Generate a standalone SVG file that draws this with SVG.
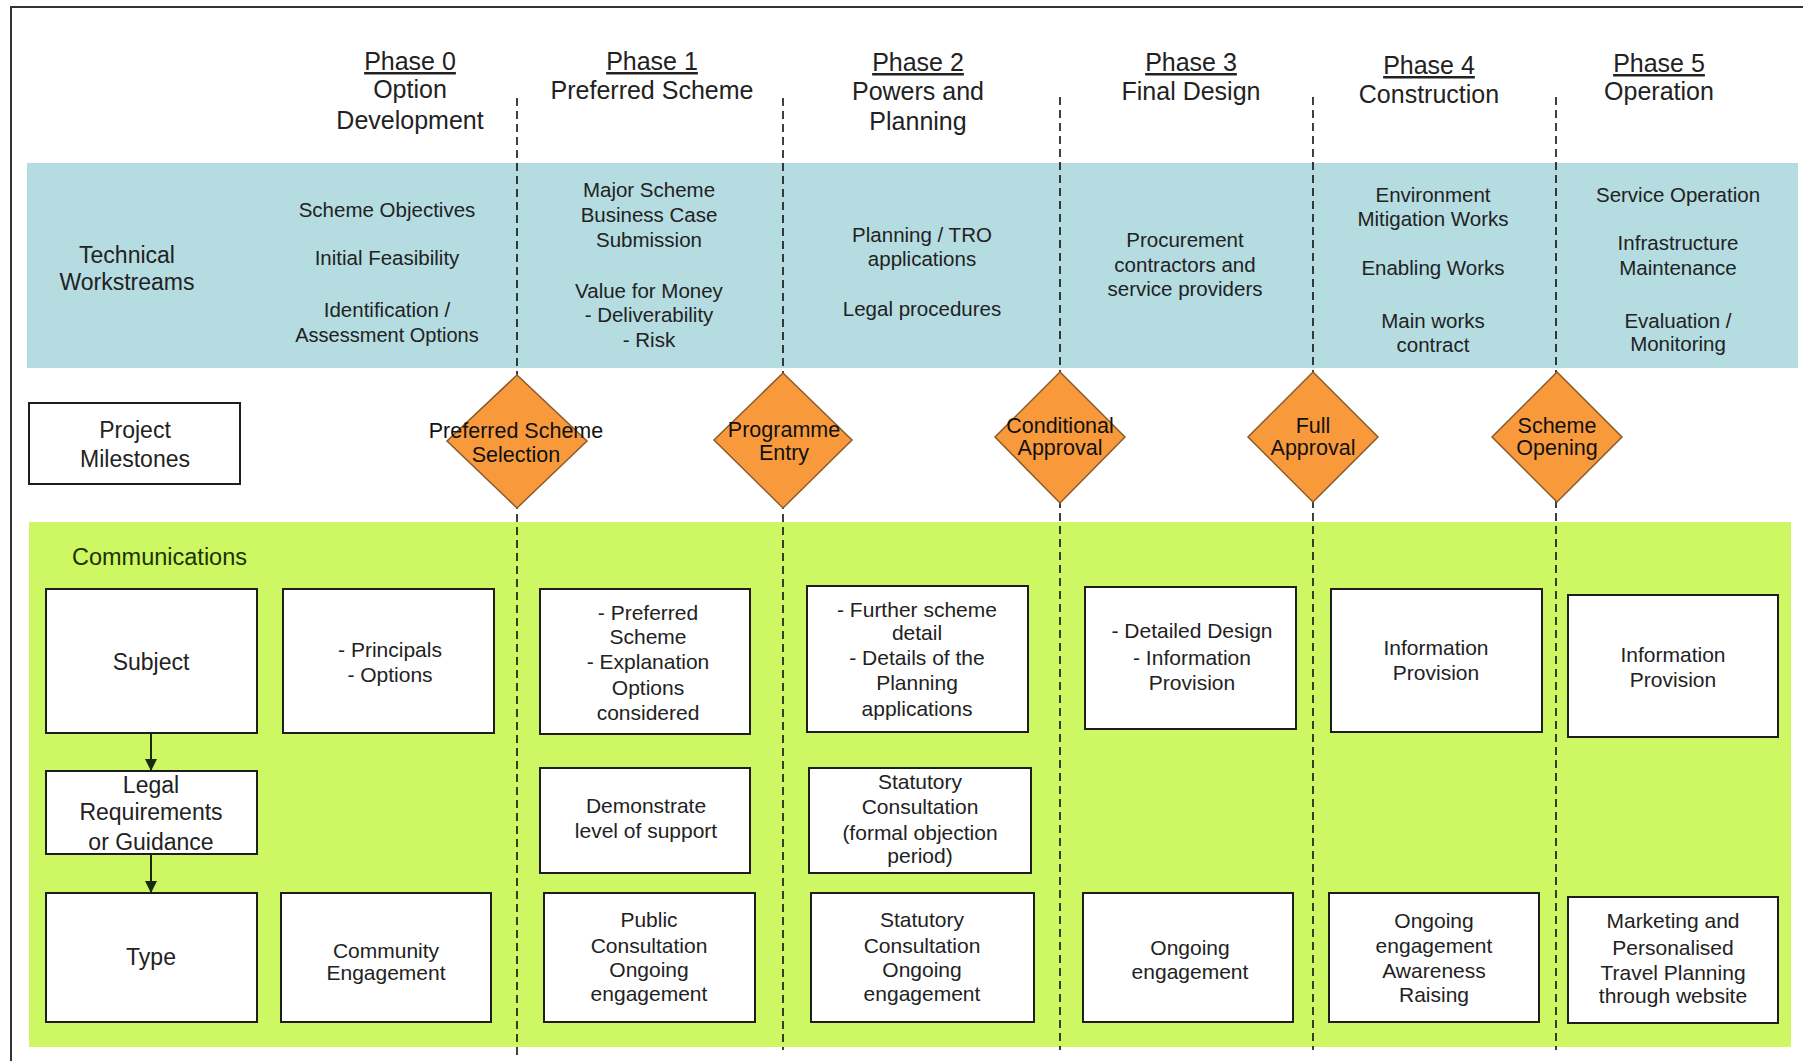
<svg xmlns="http://www.w3.org/2000/svg" width="1803" height="1061" viewBox="0 0 1803 1061">
<defs>
<style>
text{font-family:"Liberation Sans",Arial,sans-serif;fill:#222;text-anchor:middle}
.ph{font-size:25px}
.u{text-decoration:underline}
.tw{font-size:20.5px}
.lb{font-size:23px}
.bt{font-size:21px}
.dt{font-size:21.5px;fill:#111}
.bx{fill:#fff;stroke:#1e1e1e;stroke-width:2}
.dm{fill:#f89a3c;stroke:#8a5a2c;stroke-width:1.5}
.dl{stroke:#111;stroke-width:1.6;stroke-dasharray:8 5;fill:none}
.ar{stroke:#1a2a10;stroke-width:2;fill:none}
</style>
<marker id="ah" viewBox="0 0 10 10" refX="10" refY="5" markerWidth="12" markerHeight="12" markerUnits="userSpaceOnUse" orient="auto">
<path d="M0,0 L10,5 L0,10 z" fill="#1a2a10"/>
</marker>
</defs>
<rect x="0" y="0" width="1803" height="1061" fill="#fff"/>
<rect x="11" y="7" width="1810" height="1080" fill="none" stroke="#333" stroke-width="2"/>
<g id="bands">
<rect x="27" y="163" width="1771" height="205" fill="#b4dce1"/>
<rect x="29" y="522" width="1762" height="525" fill="#cdf763"/>
</g>
<g id="connectors">
<line class="dl" x1="517" y1="98" x2="517" y2="1058"/>
<line class="dl" x1="783" y1="98" x2="783" y2="1050"/>
<line class="dl" x1="1060" y1="97" x2="1060" y2="1050"/>
<line class="dl" x1="1313" y1="97" x2="1313" y2="1050"/>
<line class="dl" x1="1556" y1="97" x2="1556" y2="1050"/>
<line class="ar" x1="151" y1="734" x2="151" y2="771" marker-end="url(#ah)"/>
<line class="ar" x1="151" y1="855" x2="151" y2="893" marker-end="url(#ah)"/>
</g>
<g id="phases">
<text class="ph" x="410"><tspan class="u" x="410" y="70">Phase 0</tspan><tspan x="410" y="98">Option</tspan><tspan x="410" y="129">Development</tspan></text>
<text class="ph" x="652"><tspan class="u" x="652" y="70">Phase 1</tspan><tspan x="652" y="99">Preferred Scheme</tspan></text>
<text class="ph" x="918"><tspan class="u" x="918" y="71">Phase 2</tspan><tspan x="918" y="100">Powers and</tspan><tspan x="918" y="130">Planning</tspan></text>
<text class="ph" x="1191"><tspan class="u" x="1191" y="71">Phase 3</tspan><tspan x="1191" y="100">Final Design</tspan></text>
<text class="ph" x="1429"><tspan class="u" x="1429" y="74">Phase 4</tspan><tspan x="1429" y="103">Construction</tspan></text>
<text class="ph" x="1659"><tspan class="u" x="1659" y="72">Phase 5</tspan><tspan x="1659" y="100">Operation</tspan></text>
</g>
<g id="technical">
<text class="lb"><tspan x="127" y="263">Technical</tspan><tspan x="127" y="290">Workstreams</tspan></text>
<text class="tw"><tspan x="387" y="217">Scheme Objectives</tspan><tspan x="387" y="265">Initial Feasibility</tspan><tspan x="387" y="317">Identification /</tspan><tspan x="387" y="342" style="font-size:20px">Assessment Options</tspan></text>
<text class="tw"><tspan x="649" y="197">Major Scheme</tspan><tspan x="649" y="222">Business Case</tspan><tspan x="649" y="247">Submission</tspan><tspan x="649" y="298">Value for Money</tspan><tspan x="649" y="322">- Deliverability</tspan><tspan x="649" y="347">- Risk</tspan></text>
<text class="tw"><tspan x="922" y="242">Planning / TRO</tspan><tspan x="922" y="266">applications</tspan><tspan x="922" y="316">Legal procedures</tspan></text>
<text class="tw"><tspan x="1185" y="247">Procurement</tspan><tspan x="1185" y="272">contractors and</tspan><tspan x="1185" y="296">service providers</tspan></text>
<text class="tw"><tspan x="1433" y="202">Environment</tspan><tspan x="1433" y="226">Mitigation Works</tspan><tspan x="1433" y="275">Enabling Works</tspan><tspan x="1433" y="328">Main works</tspan><tspan x="1433" y="352">contract</tspan></text>
<text class="tw"><tspan x="1678" y="202">Service Operation</tspan><tspan x="1678" y="250">Infrastructure</tspan><tspan x="1678" y="275">Maintenance</tspan><tspan x="1678" y="328">Evaluation /</tspan><tspan x="1678" y="351">Monitoring</tspan></text>
</g>
<g id="milestones-label">
<rect class="bx" x="29" y="403" width="211" height="81"/>
<text class="lb"><tspan x="135" y="438">Project</tspan><tspan x="135" y="467">Milestones</tspan></text>
</g>
<g id="ms-preferred">
<polygon class="dm" points="517,375 587,441 517,508 447,441"/>
<text class="dt"><tspan x="516" y="438">Preferred Scheme</tspan><tspan x="516" y="462">Selection</tspan></text>
</g>
<g id="ms-programme">
<polygon class="dm" points="783,373 852,440 783,508 714,440"/>
<text class="dt"><tspan x="784" y="437">Programme</tspan><tspan x="784" y="460">Entry</tspan></text>
</g>
<g id="ms-conditional">
<polygon class="dm" points="1060,372 1125,437 1060,503 995,437"/>
<text class="dt"><tspan x="1060" y="433">Conditional</tspan><tspan x="1060" y="455">Approval</tspan></text>
</g>
<g id="ms-full">
<polygon class="dm" points="1313,372 1378,437 1313,502 1248,437"/>
<text class="dt"><tspan x="1313" y="433">Full</tspan><tspan x="1313" y="455">Approval</tspan></text>
</g>
<g id="ms-opening">
<polygon class="dm" points="1557,372 1622,437 1557,502 1492,437"/>
<text class="dt"><tspan x="1557" y="433">Scheme</tspan><tspan x="1557" y="455">Opening</tspan></text>
</g>
<g id="communications">
<text class="lb" x="72" y="565" style="text-anchor:start;fill:#1c3306;font-size:23.5px">Communications</text>
</g>
<g id="subject">
<rect class="bx" x="46" y="589" width="211" height="144"/>
<text class="lb" x="151" y="670">Subject</text>
</g>
<g id="p0-subject">
<rect class="bx" x="283" y="589" width="211" height="144"/>
<text class="bt"><tspan x="390" y="657">- Principals</tspan><tspan x="390" y="682">- Options</tspan></text>
</g>
<g id="p1-subject">
<rect class="bx" x="540" y="589" width="210" height="145"/>
<text class="bt"><tspan x="648" y="620">- Preferred</tspan><tspan x="648" y="644">Scheme</tspan><tspan x="648" y="669">- Explanation</tspan><tspan x="648" y="695">Options</tspan><tspan x="648" y="720">considered</tspan></text>
</g>
<g id="p2-subject">
<rect class="bx" x="807" y="586" width="221" height="146"/>
<text class="bt"><tspan x="917" y="617">- Further scheme</tspan><tspan x="917" y="640">detail</tspan><tspan x="917" y="665">- Details of the</tspan><tspan x="917" y="690">Planning</tspan><tspan x="917" y="716">applications</tspan></text>
</g>
<g id="p3-subject">
<rect class="bx" x="1085" y="587" width="211" height="142"/>
<text class="bt"><tspan x="1192" y="638">- Detailed Design</tspan><tspan x="1192" y="665">- Information</tspan><tspan x="1192" y="690">Provision</tspan></text>
</g>
<g id="p4-subject">
<rect class="bx" x="1331" y="589" width="211" height="143"/>
<text class="bt"><tspan x="1436" y="655">Information</tspan><tspan x="1436" y="680">Provision</tspan></text>
</g>
<g id="p5-subject">
<rect class="bx" x="1568" y="595" width="210" height="142"/>
<text class="bt"><tspan x="1673" y="662">Information</tspan><tspan x="1673" y="687">Provision</tspan></text>
</g>
<g id="legal">
<rect class="bx" x="46" y="771" width="211" height="83"/>
<text class="lb"><tspan x="151" y="793">Legal</tspan><tspan x="151" y="820">Requirements</tspan><tspan x="151" y="850">or Guidance</tspan></text>
</g>
<g id="p1-legal">
<rect class="bx" x="540" y="768" width="210" height="105"/>
<text class="bt"><tspan x="646" y="813">Demonstrate</tspan><tspan x="646" y="838">level of support</tspan></text>
</g>
<g id="p2-legal">
<rect class="bx" x="809" y="768" width="222" height="105"/>
<text class="bt"><tspan x="920" y="789">Statutory</tspan><tspan x="920" y="814">Consultation</tspan><tspan x="920" y="840">(formal objection</tspan><tspan x="920" y="863">period)</tspan></text>
</g>
<g id="type">
<rect class="bx" x="46" y="893" width="211" height="129"/>
<text class="lb" x="151" y="965">Type</text>
</g>
<g id="p0-type">
<rect class="bx" x="281" y="893" width="210" height="129"/>
<text class="bt"><tspan x="386" y="958">Community</tspan><tspan x="386" y="980">Engagement</tspan></text>
</g>
<g id="p1-type">
<rect class="bx" x="544" y="893" width="211" height="129"/>
<text class="bt"><tspan x="649" y="927">Public</tspan><tspan x="649" y="953">Consultation</tspan><tspan x="649" y="977">Ongoing</tspan><tspan x="649" y="1001">engagement</tspan></text>
</g>
<g id="p2-type">
<rect class="bx" x="811" y="893" width="223" height="129"/>
<text class="bt"><tspan x="922" y="927">Statutory</tspan><tspan x="922" y="953">Consultation</tspan><tspan x="922" y="977">Ongoing</tspan><tspan x="922" y="1001">engagement</tspan></text>
</g>
<g id="p3-type">
<rect class="bx" x="1083" y="893" width="210" height="129"/>
<text class="bt"><tspan x="1190" y="955">Ongoing</tspan><tspan x="1190" y="979">engagement</tspan></text>
</g>
<g id="p4-type">
<rect class="bx" x="1329" y="893" width="210" height="129"/>
<text class="bt"><tspan x="1434" y="928">Ongoing</tspan><tspan x="1434" y="953">engagement</tspan><tspan x="1434" y="978">Awareness</tspan><tspan x="1434" y="1002">Raising</tspan></text>
</g>
<g id="p5-type">
<rect class="bx" x="1568" y="897" width="210" height="126"/>
<text class="bt"><tspan x="1673" y="928">Marketing and</tspan><tspan x="1673" y="955">Personalised</tspan><tspan x="1673" y="980">Travel Planning</tspan><tspan x="1673" y="1003">through website</tspan></text>
</g>
</svg>
